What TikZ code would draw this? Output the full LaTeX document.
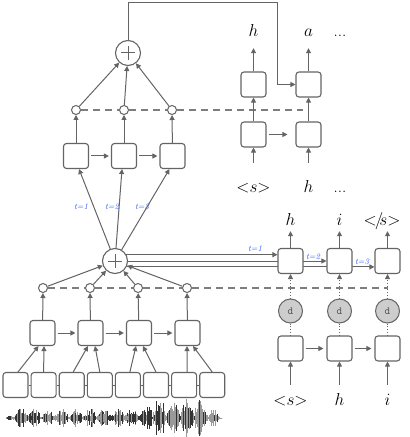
\documentclass[tikz,border=0pt]{standalone}
\usetikzlibrary{arrows.meta,calc,backgrounds}
\definecolor{lc}{RGB}{100,100,100}
\definecolor{dc}{RGB}{125,125,125}
\definecolor{tb}{RGB}{50,90,245}
\definecolor{dg}{RGB}{205,205,205}
\newcommand{\sopen}{$\mathord{<}s\mathord{>}$}
\newcommand{\sclose}{$\mathord{<}\mkern-2mu/\mkern-4mu s\mathord{>}$}
\begin{document}
\begin{tikzpicture}[x=1bp,y=-1bp,
 bx/.style={draw=lc,line width=1.1bp,rounded corners=3bp,minimum size=25bp,inner sep=0,fill=white},
 sm/.style={circle,draw=lc,line width=1bp,minimum size=9bp,inner sep=0,fill=white},
 pl/.style={circle,draw=lc,line width=1.1bp,minimum size=25bp,inner sep=0,fill=white,
   path picture={\draw[lc,line width=1bp] ([xshift=-7bp]path picture bounding box.center) -- ([xshift=7bp]path picture bounding box.center) ([yshift=-7bp]path picture bounding box.center) -- ([yshift=7bp]path picture bounding box.center);}},
 dn/.style={circle,draw=lc,line width=1bp,fill=dg,minimum size=24bp,inner sep=0,font=\ttfamily\fontsize{11}{11}\selectfont,text=black!70},
 ar/.style={draw=lc,line width=1bp,-{Triangle[length=5bp,width=5bp]}},
 ln/.style={draw=lc,line width=1bp},
 ds/.style={draw=dc,line width=1.1bp,dash pattern=on 7bp off 5bp},
 dt/.style={draw=lc,line width=0.9bp,dotted},
 lb/.style={font=\fontsize{17}{17}\selectfont,text height=12bp,text depth=4bp,inner sep=2bp},
 tl/.style={font=\fontsize{8.5}{8.5}\selectfont\itshape,text=tb,inner sep=0}
]
\useasboundingbox (0,0) rectangle (409,437);

% ---------- upper encoder ----------
\node[pl] (P2) at (128,53) {};
\node[sm] (c1) at (76,110) {};
\node[sm] (c2) at (124,110) {};
\node[sm] (c3) at (172,110) {};
\node[bx] (E1) at (76,156) {};
\node[bx] (E2) at (124,156) {};
\node[bx] (E3) at (172.5,156) {};

% ---------- lower encoder ----------
\node[pl] (P1) at (115,261) {};
\node[sm] (s1) at (43,288) {};
\node[sm] (s2) at (90,288) {};
\node[sm] (s3) at (138,288) {};
\node[sm] (s4) at (187,288) {};
\node[bx] (M1) at (42.5,333) {};
\node[bx] (M2) at (90.5,333) {};
\node[bx] (M3) at (139,333) {};
\node[bx] (M4) at (187.5,333) {};
\foreach \k in {1,...,8}{
  \node[bx] (B\k) at ({15.5+28.1*(\k-1)},385) {};
}

% ---------- top-right decoder ----------
\node[bx] (A1u) at (253.5,84.5) {};
\node[bx] (A2u) at (308.5,84.5) {};
\node[bx] (A1l) at (253.5,134.5) {};
\node[bx] (A2l) at (308.5,134.5) {};
\node[lb] (ot1) at (253.5,33) {$h$};
\node[lb] (ot2) at (308.5,33) {$a$};
\node[lb] (ot3) at (340,33) {...};
\node[lb] (it1) at (253.5,189) {\sopen};
\node[lb] (it2) at (308.5,189) {$h$};
\node[lb] (it3) at (340,189) {...};

% ---------- bottom-right decoder ----------
\node[bx] (D1u) at (290.5,261) {};
\node[bx] (D2u) at (339.5,261) {};
\node[bx] (D3u) at (387.5,261) {};
\node[dn] (d1) at (290.5,311) {d};
\node[dn] (d2) at (339.5,311) {d};
\node[dn] (d3) at (387.5,311) {d};
\node[bx] (D1l) at (290.5,348.5) {};
\node[bx] (D2l) at (339.5,348.5) {};
\node[bx] (D3l) at (387.5,348.5) {};
\node[lb] (ou1) at (290.5,221) {$h$};
\node[lb] (ou2) at (339.5,221) {$i$};
\node[lb] (ou3) at (382,221) {\sclose};
\node[lb] (in1) at (290.5,401) {\sopen};
\node[lb] (in2) at (339.5,401) {$h$};
\node[lb] (in3) at (387.5,401) {$i$};

\coordinate (k1) at (128,3);
\coordinate (k2) at (277,3);
\coordinate (e1) at (303,110);
\coordinate (e2) at (387.5,288);

\begin{pgfonlayer}{background}
  \draw[ds] (c1) -- (c2) -- (c3) -- (e1);
  \draw[ds] (s1) -- (s2) -- (s3) -- (s4) -- (e2);
  \draw[ar] (P1.29) -- (P1.29 -| D1u.west);
  \draw[ar] (P1.0) -- (P1.0 -| D2u.west);
  \draw[ar] (P1.-27) -- (P1.-27 -| D3u.west);
  \foreach \k [evaluate=\k as \n using int(\k+1)] in {1,...,7}{
    \draw[ln] (B\k.east) -- (B\n.west);
  }
\end{pgfonlayer}

% upper encoder connectors
\draw[ar] (E1) -- (c1);
\draw[ar] (E2) -- (c2);
\draw[ar] (E3) -- (c3);
\draw[ar,shorten >=2bp,shorten <=2bp] (E1) -- (E2);
\draw[ar,shorten >=2bp,shorten <=2bp] (E2) -- (E3);
\draw[ar] (c1) -- (P2);
\draw[ar] (c2) -- (P2);
\draw[ar] (c3) -- (P2);
\draw[ar] (P2) -- (k1) -- (k2) |- (A2u.west);

% lower encoder connectors
\draw[ar] (P1) -- ([xshift=3bp]E1.south);
\draw[ar] (P1) -- ([xshift=-2bp]E2.south);
\draw[ar] (P1) -- ([xshift=-3bp]E3.south);
\node[tl] (t1) at (81,207) {t=1};
\node[tl] (t2) at (112,207) {t=2};
\node[tl] (t3) at (142,207) {t=3};
\draw[ar] (M1) -- (s1);
\draw[ar] (M2) -- (s2);
\draw[ar] (M3) -- (s3);
\draw[ar] (M4) -- (s4);
\draw[ar,shorten >=2bp,shorten <=2bp] (M1) -- (M2);
\draw[ar,shorten >=2bp,shorten <=2bp] (M2) -- (M3);
\draw[ar,shorten >=2bp,shorten <=2bp] (M3) -- (M4);
\draw[ar] (s1) -- (P1);
\draw[ar] (s2) -- (P1);
\draw[ar] (s3) -- (P1);
\draw[ar] (s4) -- (P1);
\draw[ar] ([xshift=2.5bp]B1.north) -- ([xshift=-4bp]M1.south);
\draw[ar] (B2.north) -- ([xshift=1.5bp]M1.south);
\draw[ar] ([xshift=1.5bp]B3.north) -- ([xshift=-2.5bp]M2.south);
\draw[ar] (B4.north) -- ([xshift=4.5bp]M2.south);
\draw[ar] ([xshift=2bp]B5.north) -- ([xshift=-3bp]M3.south);
\draw[ar] (B6.north) -- ([xshift=4bp]M3.south);
\draw[ar] ([xshift=3bp]B7.north) -- ([xshift=-0.5bp]M4.south);
\draw[ar] (B8.north) -- ([xshift=5.5bp]M4.south);

% top-right decoder connectors
\draw[ar] (A1l) -- (A1u);
\draw[ar] (A2l) -- (A2u);
\draw[ar,shorten >=5bp] (A1u) -- (ot1);
\draw[ar,shorten >=5bp] (A2u) -- (ot2);
\draw[ar,shorten <=16bp] (it1) -- (A1l);
\draw[ar,shorten <=16bp] (it2) -- (A2l);
\draw[ar,shorten <=2bp,shorten >=8bp] (A1l) -- (A2l);

% bottom-right decoder connectors
\node[tl] (u1) at (255,249) {t=1};
\node[tl] (u2) at (313,257) {t=2};
\node[tl] (u3) at (362,262) {t=3};
\draw[dt] (D1l) -- (d1);
\draw[dt] (D2l) -- (d2);
\draw[dt] (D3l) -- (d3);
\draw[dt,-{Triangle[length=5bp,width=5bp]}] (d1) -- (D1u);
\draw[dt,-{Triangle[length=5bp,width=5bp]}] (d2) -- (D2u);
\draw[dt,-{Triangle[length=5bp,width=5bp]}] (d3) -- (D3u);
\draw[ar] (D1u) -- (ou1);
\draw[ar] (D2u) -- (ou2);
\draw[ar] (D3u.north) -- (D3u.north |- ou3.south);
\draw[ar,shorten <=6bp] (in1) -- (D1l);
\draw[ar,shorten <=6bp] (in2) -- (D2l);
\draw[ar,shorten <=6bp] (in3) -- (D3l);
\draw[ar,shorten <=2bp,shorten >=3bp] (D1l) -- (D2l);
\draw[ar,shorten <=2bp,shorten >=3bp] (D2l) -- (D3l);

% waveform
\pgfmathsetseed{7}
\foreach \i in {0,...,270}{
  \pgfmathsetmacro{\xx}{6+\i*0.8}
  \pgfmathsetmacro{\env}{(2+8*abs(sin(\xx*13)))*(1+1.1*and(\xx>147,\xx<205))*(0.25+0.75*rnd)*min(1,(\xx-5)/12)*min(1,(222-\xx)/8)}
  \pgfmathsetmacro{\gg}{rnd>0.5?80:40}
  \draw[line width=0.6bp,black!\gg] (\xx,418-\env) -- (\xx,418+\env);
}
\end{tikzpicture}
\end{document}
